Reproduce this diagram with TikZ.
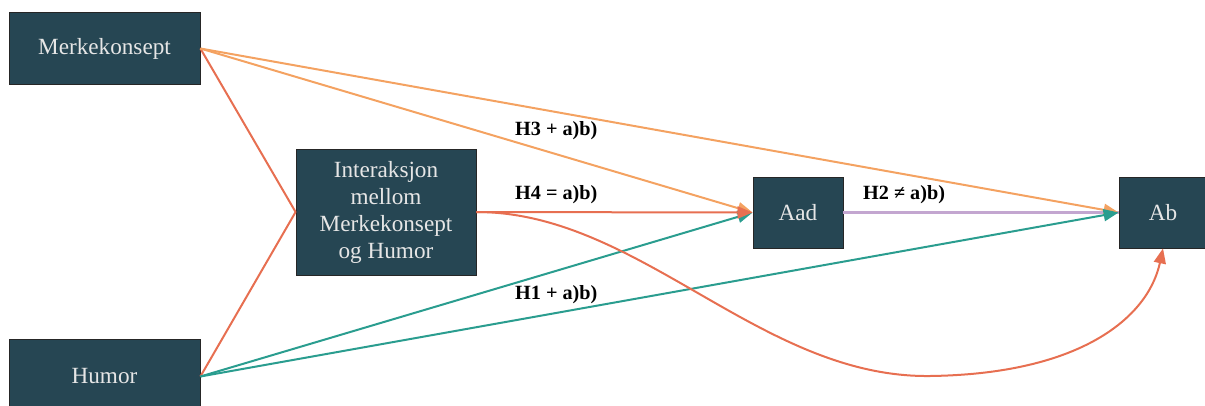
\documentclass[tikz,border=0pt]{standalone}
\usepackage{fontspec}
\setmainfont{Liberation Serif}
\newfontfamily\tnr{Liberation Serif}
\usetikzlibrary{arrows.meta}
\definecolor{boxfill}{HTML}{264653}
\definecolor{boxtext}{HTML}{E6E6E6}
\definecolor{corange}{HTML}{F4A261}
\definecolor{cred}{HTML}{E76F51}
\definecolor{cteal}{HTML}{2A9D8F}
\definecolor{clav}{HTML}{C3A6D0}
\tikzset{
  varbox/.style={draw=black!85, line width=0.8pt, fill=boxfill, text=boxtext,
    font=\tnr\fontsize{23.2}{27}\selectfont, align=center, inner sep=0pt},
  conn/.style={line width=2pt},
  tip/.style={-{Triangle[length=15pt,width=12pt]}},
  hlabel/.style={font=\tnr\fontsize{20.2}{22}\selectfont\bfseries, anchor=west, inner sep=0pt}
}
\begin{document}
\begin{tikzpicture}[x=1pt,y=-1pt]
\useasboundingbox (0,0) rectangle (1205,405);
\clip (0,0) rectangle (1205,405);
\node[varbox, minimum width=191pt, minimum height=72pt] (mk) at (104.5,48.5) {Merkekonsept};
\node[varbox, minimum width=191pt, minimum height=75pt] (hu) at (104.5,376.5) {Humor};
\node[varbox, minimum width=180pt, minimum height=126pt] (ia) at (386,212) {Interaksjon\\mellom\\Merkekonsept\\og Humor};
\node[varbox, minimum width=90pt, minimum height=71pt] (aad) at (798,212.5) {Aad};
\node[varbox, minimum width=88pt, minimum height=71pt] (ab) at (1163,212.5) {Ab};

% interaction lines
\draw[conn, cred] (mk.east) -- (ia.west);
\draw[conn, cred] (hu.east) -- (ia.west);
% H2
\draw[conn, clav, line width=2.4pt] (aad.east) -- (ab.west);
% H3
\draw[conn, corange, tip] (mk.east) -- (ab.west);
\draw[conn, corange, tip] (mk.east) -- (aad.west);
% H1
\draw[conn, cteal, tip] (hu.east) -- (aad.west);
\draw[conn, cteal, tip] (hu.east) -- (ab.west);
% H4
\draw[conn, cred, tip] (ia.east) -- (aad.west);
\draw[conn, cred, tip] (ia.east) .. controls (640,212) and (760,378) .. (930,376)
  .. controls (1080,374) and (1148,318) .. (ab.south);

\node[hlabel] (l3) at (515,131) {H3 + a)b)};
\node[hlabel] (l4) at (515,195) {H4 = a)b)};
\node[hlabel] (l2) at (863,195) {H2 ≠ a)b)};
\node[hlabel] (l1) at (515,295) {H1 + a)b)};
\end{tikzpicture}
\end{document}
